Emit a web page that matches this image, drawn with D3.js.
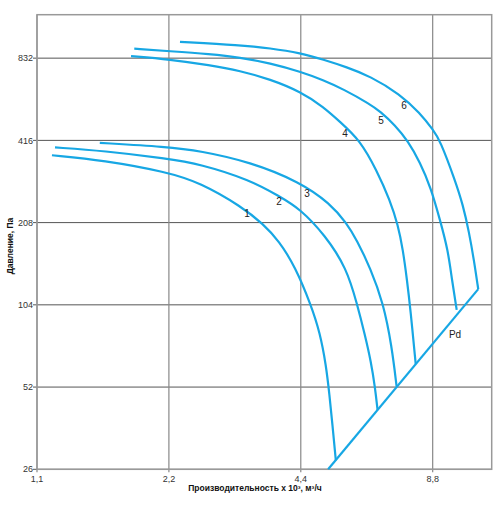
<!DOCTYPE html>
<html>
<head>
<meta charset="utf-8">
<script src="https://cdn.jsdelivr.net/npm/d3@7"></script>
<style>
  body { margin: 0; background: #fff; }
  svg { font-family: "Liberation Sans", Arial, sans-serif; }
</style>
</head>
<body>
<div id="chart"></div>
<script>
// Tick values
const xTicks = [1.1, 2.2, 4.4, 8.8];
const yTicks = [26, 52, 104, 208, 416, 832];

// Fan curves: flow (x 10^3 m3/h) and pressure (Pa)
const curve1Q = [1.19, 1.56, 2.175, 2.59, 3.225, 3.61, 3.924, 4.268, 4.642, 4.867, 5.023, 5.116, 5.197, 5.29];
const curve1P = [367, 352, 319, 291.6, 238, 205.6, 178.2, 143.8, 103.9, 82.1, 62.7, 48.7, 37.8, 28.0];

const curve2Q = [1.209, 1.559, 2.175, 2.59, 3.37, 3.924, 4.38, 5.00, 5.60, 5.912, 6.165, 6.363, 6.498, 6.588];
const curve2P = [392, 381, 357, 341, 298, 260, 234, 187, 141.6, 104.9, 80.7, 64.4, 52.1, 42.8];

const curve3Q = [1.53, 2.175, 2.59, 3.37, 4.38, 5.13, 5.60, 5.90, 6.346, 6.79, 7.10, 7.28];
const curve3P = [407.5, 394, 381, 347, 293, 244.5, 207, 179.8, 141.6, 105.5, 73.1, 52.3];

const curve4Q = [1.803, 2.207, 2.730, 3.197, 3.743, 4.405, 4.953, 5.406, 6.005, 6.556, 7.031, 7.333, 7.529, 7.689, 7.832, 8.048];
const curve4P = [846, 823, 784, 747.5, 697, 626, 552, 486.7, 417, 323.7, 251.3, 203.9, 165, 128.2, 99.7, 63.2];

const curve5Q = [1.834, 2.207, 2.730, 3.197, 3.743, 4.405, 4.953, 5.501, 6.329, 6.671, 7.219, 7.729, 8.232, 8.722, 9.144, 9.537, 9.739, 9.984];
const curve5P = [901, 882.6, 860.5, 837, 797.6, 741.3, 691.3, 640.7, 564.7, 531.6, 473.2, 413.6, 346.3, 278.3, 212.7, 165, 128.2, 99.7];

const curve6Q = [2.332, 3.197, 3.743, 4.405, 4.953, 5.600, 6.329, 7.411, 8.232, 8.827, 9.144, 9.895, 10.32, 10.65, 10.93, 11.18];
const curve6P = [954.5, 928.3, 905, 867.8, 821.5, 771.3, 714.9, 614.3, 523.5, 453.7, 417, 297.7, 241.1, 192.3, 152, 118.7];

// Dynamic pressure line
const pdQ = [5.08, 11.18];
const pdP = [26, 118.7];

// Curve labels and where they sit
const labelText = ["1", "2", "3", "4", "5", "6", "Pd"];
const labelQ = [3.316, 3.924, 4.545, 5.55, 6.71, 7.57, 9.895];
const labelP = [225.5, 249.3, 266.7, 442.5, 493.5, 560, 80.7];

const curves = [
  [curve1Q, curve1P], [curve2Q, curve2P], [curve3Q, curve3P],
  [curve4Q, curve4P], [curve5Q, curve5P], [curve6Q, curve6P]
].map(([q, p]) => q.map((v, i) => ({ q: v, p: p[i] })));

const pdLine = pdQ.map((v, i) => ({ q: v, p: pdP[i] }));

// Chart dimensions
const width = 500;
const height = 505;
const margin = { top: 14.7, right: 8.3, bottom: 35.7, left: 37 };
const blue = "#17a7e4";

const svg = d3.select("#chart").append("svg")
  .attr("width", width)
  .attr("height", height);

const x = d3.scaleLog()
  .domain([1.1, 12])
  .range([margin.left, width - margin.right]);

const y = d3.scaleLog()
  .domain([26, 1200])
  .range([height - margin.bottom, margin.top]);

const fmt = d => String(d).replace(".", ",");

// Grid lines
svg.append("g")
  .selectAll("line")
  .data(yTicks)
  .join("line")
  .attr("x1", margin.left - 4)
  .attr("x2", width - margin.right)
  .attr("y1", d => y(d))
  .attr("y2", d => y(d))
  .attr("stroke", "#555")
  .attr("stroke-width", 1);

svg.append("g")
  .selectAll("line")
  .data(xTicks)
  .join("line")
  .attr("x1", d => x(d))
  .attr("x2", d => x(d))
  .attr("y1", margin.top)
  .attr("y2", height - margin.bottom + 3)
  .attr("stroke", "#888")
  .attr("stroke-width", 1.2);

// Frame
svg.append("rect")
  .attr("x", margin.left)
  .attr("y", margin.top)
  .attr("width", width - margin.left - margin.right)
  .attr("height", height - margin.top - margin.bottom)
  .attr("fill", "none")
  .attr("stroke", "#999")
  .attr("stroke-width", 1.5);

// Tick labels
svg.append("g")
  .selectAll("text")
  .data(yTicks)
  .join("text")
  .attr("x", margin.left - 4)
  .attr("y", d => y(d))
  .attr("dy", "0.35em")
  .attr("text-anchor", "end")
  .style("font-size", "9px")
  .style("fill", "#333")
  .text(d => d);

svg.append("g")
  .selectAll("text")
  .data(xTicks)
  .join("text")
  .attr("x", d => x(d))
  .attr("y", height - margin.bottom + 10)
  .attr("dy", "0.35em")
  .attr("text-anchor", "middle")
  .style("font-size", "9px")
  .style("fill", "#333")
  .text(fmt);

// Curves (B-spline smooths out reading noise)
const line = d3.line()
  .x(d => x(d.q))
  .y(d => y(d.p))
  .curve(d3.curveBasis);

svg.append("g")
  .selectAll("path")
  .data(curves)
  .join("path")
  .attr("d", line)
  .attr("fill", "none")
  .attr("stroke", blue)
  .attr("stroke-width", 2.2);

svg.append("path")
  .datum(pdLine)
  .attr("d", d3.line().x(d => x(d.q)).y(d => y(d.p)))
  .attr("fill", "none")
  .attr("stroke", blue)
  .attr("stroke-width", 2.2);

// Curve labels
svg.append("g")
  .selectAll("text")
  .data(labelText)
  .join("text")
  .attr("x", (d, i) => x(labelQ[i]))
  .attr("y", (d, i) => y(labelP[i]))
  .attr("dy", "0.35em")
  .attr("text-anchor", "middle")
  .style("font-size", "10px")
  .style("fill", "#222")
  .text(d => d);

// Axis titles
svg.append("text")
  .attr("x", 255)
  .attr("y", 491)
  .attr("text-anchor", "middle")
  .style("font-size", "8.5px")
  .style("font-weight", "bold")
  .style("fill", "#111")
  .text("Производительность x 10³, м³/ч");

svg.append("text")
  .attr("transform", "rotate(-90)")
  .attr("x", -246)
  .attr("y", 13)
  .attr("text-anchor", "middle")
  .style("font-size", "8.5px")
  .style("font-weight", "bold")
  .style("fill", "#111")
  .text("Давление, Па");
</script>
</body>
</html>
